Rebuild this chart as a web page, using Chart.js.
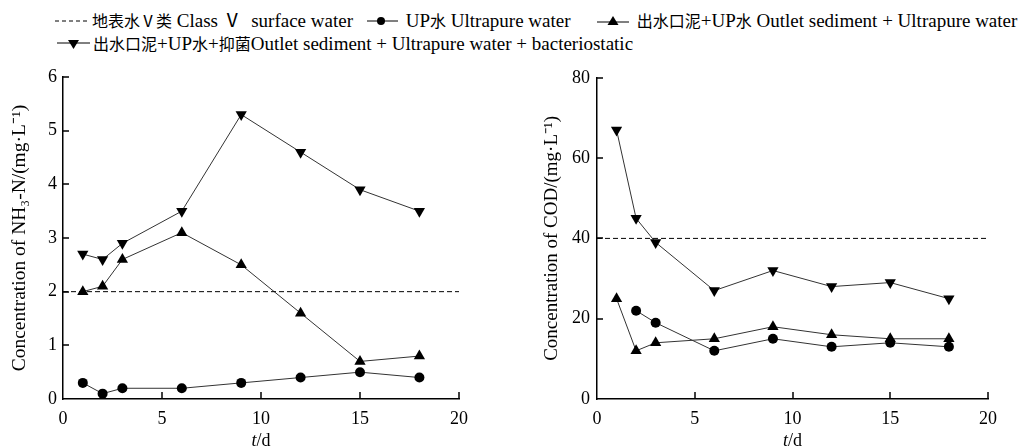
<!DOCTYPE html>
<html>
<head>
<meta charset="utf-8">
<script src="https://cdn.jsdelivr.net/npm/chart.js@4/dist/chart.umd.min.js"></script>
<style>
  html, body { margin:0; padding:0; background:#fff; }
  body { width:1026px; height:448px; position:relative; overflow:hidden;
         font-family:"Liberation Serif","Noto Sans CJK SC",serif; color:#000; }
  canvas { position:absolute; }
  .lg { position:absolute; display:flex; align-items:center; font-size:19px; white-space:nowrap; line-height:22px; }
  .lg svg { margin-right:3px; }
  .cjk { font-family:"Noto Sans CJK SC",sans-serif; font-size:16px; }
</style>
</head>
<body>
<div class="lg" style="left:55px; top:9px;">
  <svg width="34" height="12"><line x1="0" y1="6" x2="34" y2="6" stroke="#000" stroke-width="1" stroke-dasharray="4,3"/></svg>
  <span><span class="cjk">地表水Ⅴ类</span> Class Ⅴ&nbsp; surface water</span>
</div>
<div class="lg" style="left:367px; top:9px;">
  <svg width="31" height="12"><line x1="0" y1="6" x2="31" y2="6" stroke="#000" stroke-width="1"/><circle cx="14" cy="6" r="4" fill="#000"/></svg>
  <span>&nbsp;UP<span class="cjk">水</span> Ultrapure water</span>
</div>
<div class="lg" style="left:597px; top:9px;">
  <svg width="32" height="12"><line x1="0" y1="7" x2="32" y2="7" stroke="#000" stroke-width="1"/><polygon points="16,1 21.5,10 10.5,10" fill="#000"/></svg>
  <span>&nbsp;<span class="cjk">出水口泥</span>+UP<span class="cjk">水</span> Outlet sediment + Ultrapure water</span>
</div>
<div class="lg" style="left:57px; top:32px;">
  <svg width="33" height="12"><line x1="0" y1="5" x2="33" y2="5" stroke="#000" stroke-width="1"/><polygon points="16.5,11 22,2 11,2" fill="#000"/></svg>
  <span><span class="cjk">出水口泥</span>+UP<span class="cjk">水</span>+<span class="cjk">抑菌</span>Outlet sediment + Ultrapure water + bacteriostatic</span>
</div>

<canvas id="c1" width="480" height="388" style="left:0px; top:60px;"></canvas>
<canvas id="c2" width="490" height="388" style="left:520px; top:60px;"></canvas>

<script>
// ---- data ----
const days = [1, 2, 3, 6, 9, 12, 15, 18];
const nh3Ultrapure = [0.3, 0.1, 0.2, 0.2, 0.3, 0.4, 0.5, 0.4];
const nh3Sediment  = [2.0, 2.1, 2.6, 3.1, 2.5, 1.6, 0.7, 0.8];
const nh3Bacterio  = [2.7, 2.6, 2.9, 3.5, 5.3, 4.6, 3.9, 3.5];
const codUltrapure = [null, 22, 19, 12, 15, 13, 14, 13];
const codSediment  = [25, 12, 14, 15, 18, 16, 15, 15];
const codBacterio  = [67, 45, 39, 27, 32, 28, 29, 25];
const nh3Limit = 2;
const codLimit = 40;
const xRange = [0, 20];
const nh3Range = [0, 6];
const codRange = [0, 80];
const labels = {
  nh3Y: 'Concentration of NH\u2083-N/(mg\u00B7L\u207B\u00B9)',
  codY: 'Concentration of COD/(mg\u00B7L\u207B\u00B9)'
};

const SERIF = '"Liberation Serif", "Times New Roman", serif';
const pts = (arr) => days.map((d, i) => ({ x: d, y: arr[i] }));

const inward = {
  id: 'inward',
  afterDraw(chart) {
    const { ctx, chartArea: { left, right, bottom }, scales: { x, y } } = chart;
    ctx.save();
    ctx.strokeStyle = '#000';
    ctx.lineWidth = 1.5;
    x.ticks.forEach(t => {
      if (t.value === xRange[0]) return;
      const px = Math.round(x.getPixelForValue(t.value));
      ctx.beginPath(); ctx.moveTo(px, bottom); ctx.lineTo(px, bottom - 7); ctx.stroke();
    });
    y.ticks.forEach(t => {
      if (t.value === y.min) return;
      const py = Math.round(y.getPixelForValue(t.value));
      ctx.beginPath(); ctx.moveTo(left, py); ctx.lineTo(left + 6, py); ctx.stroke();
    });
    // x title: italic t + /d
    ctx.fillStyle = '#000';
    ctx.textBaseline = 'middle';
    ctx.font = 'italic 18px ' + SERIF;
    const w1 = ctx.measureText('t').width;
    ctx.font = '18px ' + SERIF;
    const w2 = ctx.measureText('/d').width;
    const cx = (left + right) / 2;
    const ty = bottom + 42;
    ctx.font = 'italic 18px ' + SERIF;
    ctx.fillText('t', cx - (w1 + w2) / 2, ty);
    ctx.font = '18px ' + SERIF;
    ctx.fillText('/d', cx - (w1 + w2) / 2 + w1, ty);
    ctx.restore();
  }
};

function makeChart(id, series, limit, yRange, yStep, yTitle, yWidth, titleSize, titlePad, tickPad, padRight) {
  const lineColor = '#333';
  const ds = [
    { data: [{ x: xRange[0], y: limit }, { x: xRange[1], y: limit }], borderColor: '#000',
      borderWidth: 1, borderDash: [5, 3], pointRadius: 0 },
    { data: pts(series[0]), borderColor: lineColor, borderWidth: 1, pointStyle: 'circle',
      pointRadius: 5, pointBackgroundColor: '#000', pointBorderColor: '#000', pointBorderWidth: 0, spanGaps: false },
    { data: pts(series[1]), borderColor: lineColor, borderWidth: 1, pointStyle: 'triangle',
      pointRadius: 6.5, pointBackgroundColor: '#000', pointBorderColor: '#000', pointBorderWidth: 0 },
    { data: pts(series[2]), borderColor: lineColor, borderWidth: 1, pointStyle: 'triangle', pointRotation: 180,
      pointRadius: 6.5, pointBackgroundColor: '#000', pointBorderColor: '#000', pointBorderWidth: 0 }
  ];
  return new Chart(document.getElementById(id), {
    type: 'line',
    data: { datasets: ds },
    options: {
      responsive: false, animation: false, devicePixelRatio: 1,
      layout: { padding: { top: 17, right: padRight, left: 0, bottom: 0 } },
      plugins: { legend: { display: false }, tooltip: { enabled: false } },
      elements: { line: { tension: 0 } },
      scales: {
        x: {
          type: 'linear', min: xRange[0], max: xRange[1],
          grid: { display: false, drawTicks: false },
          border: { display: true, color: '#000', width: 1.5 },
          ticks: { stepSize: 5, padding: 9, color: '#000', font: { family: SERIF, size: 18 } },
          afterFit(s) { s.height = 49; }
        },
        y: {
          type: 'linear', min: yRange[0], max: yRange[1],
          grid: { display: false, drawTicks: false },
          border: { display: true, color: '#000', width: 1.5 },
          ticks: { stepSize: yStep, padding: tickPad, color: '#000', font: { family: SERIF, size: 18 } },
          title: { display: true, text: yTitle, color: '#000', font: { family: SERIF, size: titleSize },
                   padding: { top: titlePad, bottom: 0 } },
          afterFit(s) { s.width = yWidth; }
        }
      }
    },
    plugins: [inward]
  });
}

makeChart('c1', [nh3Ultrapure, nh3Sediment, nh3Bacterio], nh3Limit, nh3Range, 1, labels.nh3Y, 63, 19.5, 8, 6, 21);
makeChart('c2', [codUltrapure, codSediment, codBacterio], codLimit, codRange, 20, labels.codY, 77, 19, 21, 7, 22);
</script>
</body>
</html>
